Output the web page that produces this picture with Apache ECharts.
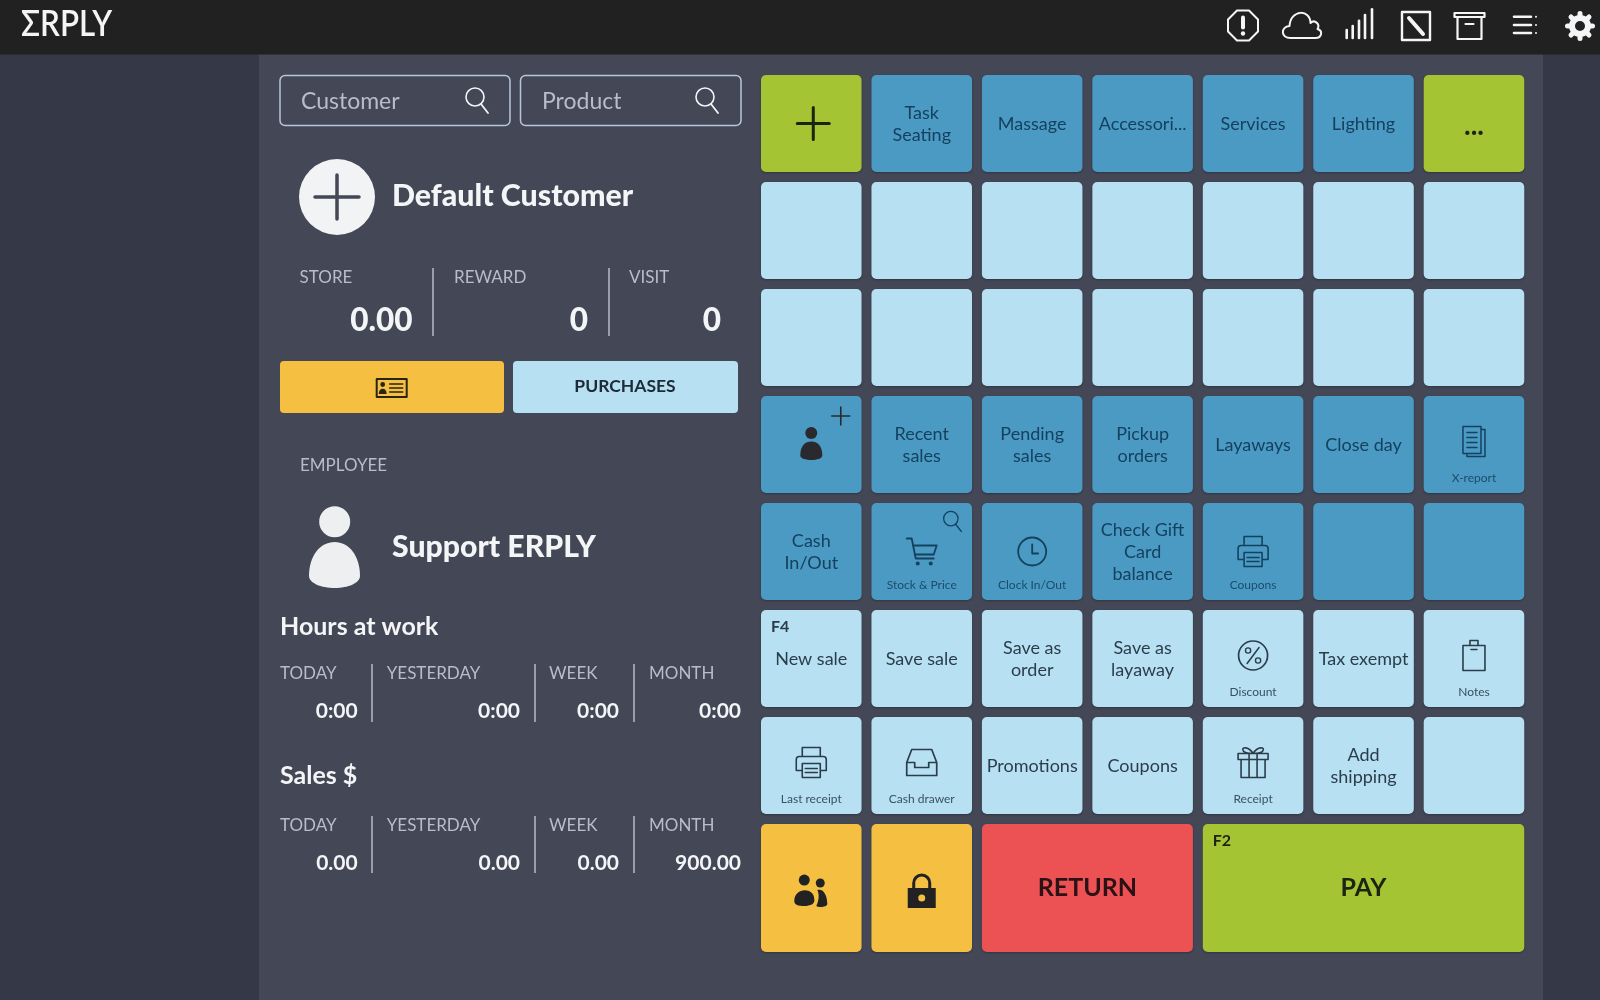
<!DOCTYPE html>
<html><head><meta charset="utf-8">
<script src="https://cdn.jsdelivr.net/npm/echarts@6/dist/echarts.min.js"></script>
<style>html,body{margin:0;padding:0;background:#353947}#c{width:1600px;height:1000px}</style>
</head><body><div id="c"></div>
<script>
// ---------- content ----------
const tileLabels = [
  ["", "Task\nSeating", "Massage", "Accessori...", "Services", "Lighting", "..."],
  ["", "", "", "", "", "", ""],
  ["", "", "", "", "", "", ""],
  ["", "Recent\nsales", "Pending\nsales", "Pickup\norders", "Layaways", "Close day", ""],
  ["Cash\nIn/Out", "", "", "Check Gift\nCard\nbalance", "", "", ""],
  ["New sale", "Save sale", "Save as\norder", "Save as\nlayaway", "", "Tax exempt", ""],
  ["", "", "Promotions", "Coupons", "", "Add\nshipping", ""],
  ["", "", "RETURN", "PAY"]
];
const tileKinds = [
  ["green", "dark", "dark", "dark", "dark", "dark", "green"],
  ["light", "light", "light", "light", "light", "light", "light"],
  ["light", "light", "light", "light", "light", "light", "light"],
  ["dark", "dark", "dark", "dark", "dark", "dark", "dark"],
  ["dark", "dark", "dark", "dark", "dark", "dark", "dark"],
  ["light", "light", "light", "light", "light", "light", "light"],
  ["light", "light", "light", "light", "light", "light", "light"],
  ["yellow", "yellow", "red", "green"]
];
const tileIcons = [
  ["plus", "", "", "", "", "", ""],
  ["", "", "", "", "", "", ""],
  ["", "", "", "", "", "", ""],
  ["personPlus", "", "", "", "", "", "docs"],
  ["", "cart", "clock", "", "printer", "", ""],
  ["", "", "", "", "percent", "", "clipboard"],
  ["printer", "drawer", "", "", "gift", "", ""],
  ["people", "lock", "", ""]
];
const tileCaptions = [
  ["", "", "", "", "", "", ""],
  ["", "", "", "", "", "", ""],
  ["", "", "", "", "", "", ""],
  ["", "", "", "", "", "", "X-report"],
  ["", "Stock & Price", "Clock In/Out", "", "Coupons", "", ""],
  ["", "", "", "", "Discount", "", "Notes"],
  ["Last receipt", "Cash drawer", "", "", "Receipt", "", ""],
  ["", "", "", ""]
];
const tileHotkeys = [[],[],[],[],[],["F4"],[],["", "", "", "F2"]];
const tileColSpans = [[],[],[],[],[],[],[],[1, 1, 2, 3]];
const rowHeights = [1, 1, 1, 1, 1, 1, 1, 1.29];

const accountLabels = ["STORE", "REWARD", "VISIT"];
const accountValues = ["0.00", "0", "0"];
const periodLabels = ["TODAY", "YESTERDAY", "WEEK", "MONTH"];
const hoursValues = ["0:00", "0:00", "0:00", "0:00"];
const salesValues = ["0.00", "0.00", "0.00", "900.00"];

// ---------- styles ----------
const FONT = 'Lato, "Open Sans", sans-serif';
const kindFill = {dark:'#4a9ac4', light:'#b7e0f3', green:'#a5c434', yellow:'#f5bf42', red:'#ec5154'};
const kindText = {dark:'#15415f', light:'#2b3d49', green:'#1c2410', yellow:'#222', red:'#2a1216'};
const kindCaption = {dark:'#1d4c6a', light:'#3a505e'};
const WHITE = '#f4f5f7', MUTED = '#b9bdc9';

function line(d, color, lw) { return {type:'path', shape:{pathData:d}, style:{fill:'none', stroke:color, lineWidth:lw||2, lineCap:'round', lineJoin:'round'}, silent:true}; }
function solid(d, color) { return {type:'path', shape:{pathData:d}, style:{fill:color, stroke:'none'}, silent:true}; }
function ring(cx, cy, r, color, lw) { return {type:'circle', shape:{cx:cx, cy:cy, r:r}, style:{fill:'none', stroke:color, lineWidth:lw||2}, silent:true}; }
function dot(cx, cy, r, color) { return {type:'circle', shape:{cx:cx, cy:cy, r:r}, style:{fill:color}, silent:true}; }

const icons = {
  plus: c => [line('M-16 0H16M0 -16V16', c, 3)],
  search: c => [ring(-2, -3, 9, c, 1.6), line('M4 4L11 13', c, 1.8)],
  personPlus: c => [dot(0, -11.5, 6, '#2a2a2e'), solid('M-11 11C-11 1 -6 -3 0 -3C6 -3 11 1 11 11C11 17 -11 17 -11 11Z', '#2a2a2e'), line('M20.5 -28.5H38.5M29.5 -37.5V-19.5', '#2a2a2e', 1.6)],
  docs: c => [line('M-11 -15H7V12H-11ZM7 -12H11V15H-7V12M-7 -9H3M-7 -4H3M-7 1H3M-7 6H3', c, 1.5)],
  cart: c => [line('M-15 -13H-10L-6 7H12M-9 -6H15L12 3H-7', c, 1.8), dot(-4, 12, 2, c), dot(9, 12, 2, c)],
  clock: c => [ring(0, 0, 14, c, 1.8), line('M0 -7V2H6', c, 1.8)],
  printer: c => [line('M-9 -6V-15H9V-6M-9 8H-15V-3Q-15 -6 -12 -6H12Q15 -6 15 -3V8H9M-9 1H9V15H-9ZM-6 6H6M-6 10H6', c, 1.6)],
  percent: c => [ring(0, 0, 14.5, c, 1.7), line('M6 -8L-6 8', c, 1.5), ring(-5, -5, 2.6, c, 1.4), ring(5, 5, 2.6, c, 1.4)],
  clipboard: c => [line('M-11 -10H11V15H-11ZM-4 -10V-15H4V-10M-3 -6H3', c, 1.6)],
  drawer: c => [line('M-10 -13H10L15 0V13H-15V0ZM-15 0H-7V5H7V0H15', c, 1.7)],
  gift: c => [line('M-15 -9H15V-3H-15ZM-12 -3V15H12V-3M-4 -9V15M4 -9V15M0 -9C-4 -16 -12 -16 -10 -12C-9 -9 -4 -9 0 -9C4 -9 9 -9 10 -12C12 -16 4 -16 0 -9', c, 1.6)],
  people: c => [dot(-7, -11, 5.5, c), solid('M-17 10C-17 -4 3 -4 3 8C4 13 -1 15 -7 15C-13 15 -17 14 -17 10Z', c), dot(9, -8, 4.5, c), solid('M6 -1C12 -3 16 4 16 13C16 16 8 17 5 15C8 9 8 3 6 -1Z', c)],
  lock: c => [line('M-8 -3V-8A8 8 0 0 1 8 -8V-3', c, 3), solid('M-14 -3H14V17H-14Z', c), dot(0, 7, 3.5, '#f5bf42')]
};

// ---------- tiles from the arrays ----------
const tiles = [];
const rowStarts = rowHeights.map((h, i) => rowHeights.slice(0, i).reduce((a, b) => a + b, 0));
tileLabels.forEach((row, r) => {
  let col = 0;
  row.forEach((label, c) => {
    const span = (tileColSpans[r] && tileColSpans[r][c]) || 1;
    tiles.push({value:[col, rowStarts[r], span, rowHeights[r]], label:label, kind:tileKinds[r][c], icon:tileIcons[r][c], caption:tileCaptions[r][c], hotkey:(tileHotkeys[r] && tileHotkeys[r][c]) || '', row:r, col:c});
    col += span;
  });
});

function renderTile(params, api) {
  const t = tiles[params.dataIndex];
  const p0 = api.coord([api.value(0), api.value(1)]);
  const p1 = api.coord([api.value(0) + api.value(2), api.value(1) + api.value(3)]);
  const x = p0[0] + 4.95, y = p0[1] + 5, w = p1[0] - p0[0] - 9.9, h = p1[1] - p0[1] - 10;
  const txt = kindText[t.kind];
  const cx = w / 2, cy = h / 2;
  const kids = [{type:'rect', shape:{x:0, y:0, width:w, height:h, r:5}, style:{fill:kindFill[t.kind], shadowColor:'rgba(20,22,30,.35)', shadowBlur:2, shadowOffsetY:1}}];
  if (t.icon) {
    let dy = t.row === 4 ? 0 : -3;
    if (t.kind === 'yellow') dy = 3;
    if (t.icon === 'plus' || t.icon === 'personPlus') dy = 0;
    const dx = t.icon === 'plus' ? 2 : 0;
    kids.push({type:'group', x:cx + dx, y:cy + dy, children:icons[t.icon](txt)});
  }
  if (t.icon === 'cart') kids.push({type:'group', x:81, y:18, scaleX:0.8, scaleY:0.8, children:icons.search(txt)});
  if (t.label) {
    const big = t.kind === 'red' || (t.kind === 'green' && t.label === 'PAY');
    const dots = t.label === '...';
    kids.push({type:'text', style:{text:t.label, x:cx, y:cy + (dots ? 2 : big ? 0 : 1), align:'center', verticalAlign:'middle', fill:txt, lineHeight:22,
      font:(big ? 'bold 25px ' : dots ? 'bold 28px ' : '18px ') + FONT}});
  }
  if (t.caption) kids.push({type:'text', style:{text:t.caption, x:cx, y:82.5, align:'center', verticalAlign:'middle', fill:kindCaption[t.kind], font:'12px ' + FONT}});
  if (t.hotkey) kids.push({type:'text', style:{text:t.hotkey, x:10, y:17, align:'left', verticalAlign:'middle', fill:txt, font:'bold 16px ' + FONT}});
  return {type:'group', x:x, y:y, children:kids};
}

// ---------- left panel + header ----------
function T(text, x, y, font, fill, align) { return {type:'text', silent:true, style:{text:text, x:x, y:y + 1, font:font + ' ' + FONT, fill:fill, align:align || 'left', verticalAlign:'middle'}}; }
function vline(x, y0, y1) { return {type:'rect', silent:true, shape:{x:x - 0.75, y:y0, width:1.5, height:y1 - y0}, style:{fill:'#b6bbc9'}}; }
function box(x, y, w, h, fill, stroke, r) { return {type:'rect', silent:true, shape:{x:x, y:y, width:w, height:h, r:r || 0}, style:{fill:fill, stroke:stroke || 'none', lineWidth:stroke ? 1.5 : 0}}; }
function at(x, y, children) { return {type:'group', x:x, y:y, silent:true, children:children}; }

const g = [];
g.push(box(259, 54, 1284, 946, '#434756'));
g.push(box(0, 0, 1600, 54.5, '#212121'));
// logo
g.push({type:'group', x:21, y:24, scaleX:0.92, scaleY:1.05, silent:true, children:[T('ΣRPLY', 0, -1, '600 34px', WHITE)]});
// header icons
g.push(at(1243, 25.5, [line('M-6 -15H6L15 -6V6L6 15H-6L-15 6V-6Z', WHITE, 2), line('M0 -8V2', WHITE, 4), dot(0, 8, 2.2, WHITE)]));
g.push(at(1301.5, 25, [line('M-11 13C-21 13 -21 2 -12 1C-11 -16 9 -16 9 -2C13 -6 19 -1 16 4C22 6 20 13 14 13Z', WHITE, 2)]));
g.push(at(0, 0, [1346.7, 1352.7, 1359, 1365, 1372].map((x, i) => line('M' + x + ' 38V' + [30, 26, 20.7, 15, 9.3][i], WHITE, 2.6))));
g.push(at(1416, 26, [line('M-14 -14H14V14H-14Z', WHITE, 2.4), line('M-7 -8L7 8', WHITE, 4)]));
g.push(at(1469.5, 26, [line('M-15 -13H15V-9H-15ZM-12 -9V13H12V-9M-4 -2H4', WHITE, 2.2)]));
g.push(at(0, 0, [line('M1514 16.7H1531M1514 25H1531M1514 33H1531', WHITE, 2.6), dot(1536, 16.7, 1, WHITE), dot(1536, 25, 1, WHITE), dot(1536, 33, 1, WHITE)]));
g.push(at(1580, 26, [ring(0, 0, 8, WHITE, 6), line('M0 -12.5V-10M0 12.5V10M-12.5 0H-10M12.5 0H10M-9 -9L-7 -7M9 9L7 7M-9 9L-7 7M9 -9L7 -7', WHITE, 5)]));
// search boxes
g.push(box(280, 75.5, 230, 50, 'none', '#b7c7da', 5), T('Customer', 301, 100.5, '23px', MUTED), at(477, 100, icons.search(WHITE)));
g.push(box(520.5, 75.5, 220.5, 50, 'none', '#b7c7da', 5), T('Product', 542, 100.5, '23px', MUTED), at(707, 100, icons.search(WHITE)));
// customer
g.push(dot(337, 197, 38, '#f2f3f5'), at(337, 197, [line('M-22 0H22M0 -22V22', '#434756', 3.5)]));
g.push(T('Default Customer', 392, 195, '900 30.3px', WHITE));
[299.6, 454, 629].forEach((x, i) => g.push(T(accountLabels[i], x, 277, '17px', MUTED)));
[412.5, 588, 721].forEach((x, i) => g.push(T(accountValues[i], x, 319.5, '900 31.5px', WHITE, 'right')));
g.push(vline(433, 268, 336), vline(609, 268, 336));
// buttons
g.push(box(280, 361, 224, 52, '#f5bf42', null, 4));
g.push(at(391.7, 388, [line('M-15 -9H15V9H-15Z', '#2a2414', 2), dot(-9, -3.5, 2.4, '#2a2414'), solid('M-13 6C-13 -1 -5 -1 -5 6Z', '#2a2414'), line('M-2 -4H11M-2 0H11M-2 4H11', '#2a2414', 1.6)]));
g.push(box(513, 361, 225, 52, '#b7e0f3', null, 4));
g.push(T('PURCHASES', 625, 385, 'bold 17.5px', '#1c2b35', 'center'));
// employee
g.push(T('EMPLOYEE', 300, 465, '17px', MUTED));
g.push(dot(334.7, 521.7, 15.5, '#eeeff1'), solid('M309 576C309 556 320 542 334.7 542C349 542 360 556 360 576C360 583 348 588 334.7 588C321 588 309 583 309 576Z', '#eeeff1'));
g.push(T('Support ERPLY', 392, 546, '900 30.2px', WHITE));
// stat blocks
const labelXs = [280, 386.7, 549, 649], valueXs = [357.7, 520, 619, 741], dividerXs = [372, 535, 634];
function stats(title, values, yTitle, yLabel, yValue, y0, y1) {
  g.push(T(title, 280, yTitle, 'bold 25px', WHITE));
  periodLabels.forEach((l, i) => g.push(T(l, labelXs[i], yLabel + 0.5, '17px', MUTED)));
  values.forEach((v, i) => g.push(T(v, valueXs[i], yValue - 1, 'bold 21px', WHITE, 'right')));
  dividerXs.forEach(x => g.push(vline(x, y0, y1)));
}
stats('Hours at work', hoursValues, 626, 672, 711, 664, 722);
stats('Sales $', salesValues, 775, 824, 863, 816, 873);

const chart = echarts.init(document.getElementById('c'), null, {renderer:'canvas'});
chart.setOption({
  animation:false,
  backgroundColor:'#353947',
  grid:{left:756.05, top:70, width:773.15, height:887.03, containLabel:false},
  xAxis:{type:'value', min:0, max:7, show:false},
  yAxis:{type:'value', min:0, max:8.29, inverse:true, show:false},
  tooltip:{show:false},
  series:[
    {type:'custom', silent:true, coordinateSystem:'none', z:1, data:[0], renderItem:() => ({type:'group', children:g})},
    {type:'custom', silent:true, clip:false, z:2, coordinateSystem:'cartesian2d', renderItem:renderTile, data:tiles.map(t => t.value)}
  ]
});
</script></body></html>
